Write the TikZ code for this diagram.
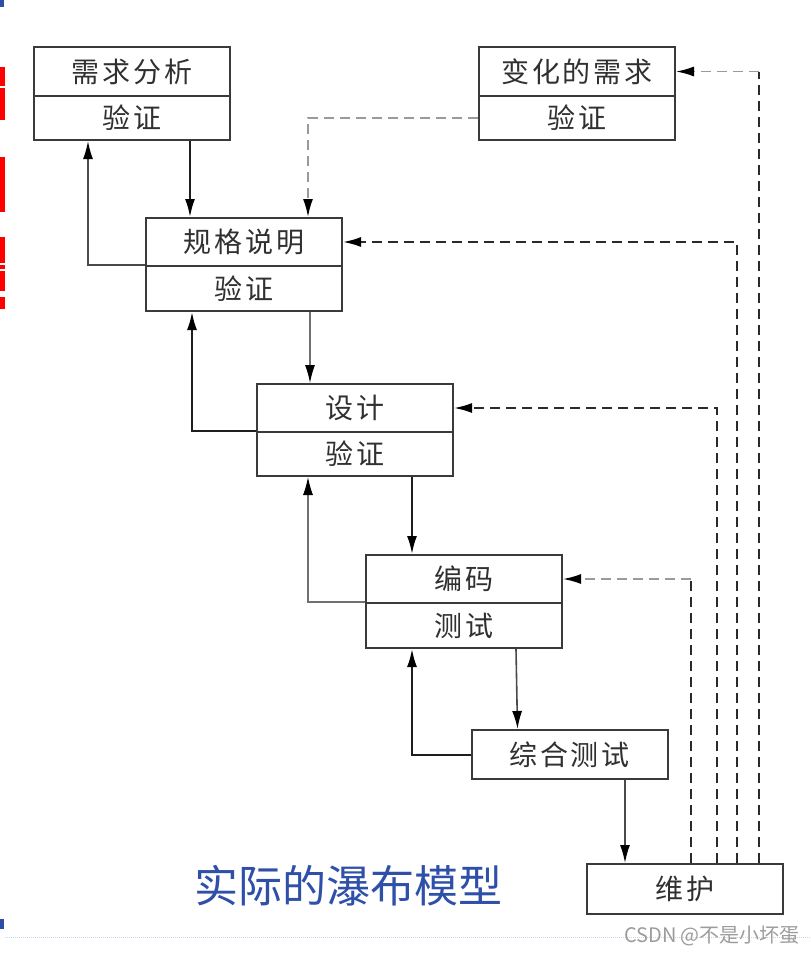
\documentclass[tikz,border=0pt]{standalone}
\usepackage{fontspec}
\newfontfamily\cjk{Noto Sans CJK SC}
\newfontfamily\cjkwide[LetterSpace=10]{Noto Sans CJK SC}
\usetikzlibrary{arrows.meta}
\definecolor{boxline}{HTML}{3A3A3A}
\definecolor{txt}{HTML}{303030}
\definecolor{flowdark}{HTML}{1E1E1E}
\definecolor{flowmid}{HTML}{4A4A4A}
\definecolor{flowlight}{HTML}{707070}
\definecolor{dashdark}{HTML}{2A2A2A}
\definecolor{dashlight}{HTML}{9A9A9A}
\definecolor{titleblue}{HTML}{2F50A8}
\definecolor{rulelight}{HTML}{C6D6EC}
\definecolor{marker}{HTML}{2E4EA6}
\definecolor{wmark}{HTML}{9C9C9C}
\begin{document}
\begin{tikzpicture}[x=1pt,y=-1pt,
  part/.style={draw=boxline, line width=2pt, fill=white, minimum width=196pt,
    text=txt, font=\cjkwide\fontsize{28}{30}\selectfont, inner sep=0pt},
  tip/.style={-{Latex[length=18pt,width=10pt,color=black]}},
  arr/.style={tip, line width=2pt, draw=flowdark},
  arrmid/.style={tip, line width=1.6pt, draw=flowmid},
  arrthin/.style={tip, line width=1.2pt, draw=flowlight},
  dline/.style={line width=1.9pt, draw=dashdark, dash pattern=on 10pt off 6pt},
  dlinelight/.style={line width=1.7pt, draw=dashlight, dash pattern=on 10pt off 6pt},
  darr/.style={tip, dline},
  darrlight/.style={tip, dlinelight}]
\useasboundingbox (0,0) rectangle (811,954);
\fill[white] (0,0) rectangle (811,954);

% clipped slide decorations at the left edge
\fill[marker] (0,0) rectangle (4,7);
\fill[marker] (0,919) rectangle (4,929);
\fill[red] (0,67) rectangle (5,86);
\fill[red] (0,88) rectangle (5,120);
\fill[red] (0,157) rectangle (5,212);
\fill[red] (0,237) rectangle (5,263);
\fill[red] (0,265) rectangle (5,269);
\fill[red] (0,271) rectangle (5,291);
\fill[red] (0,297) rectangle (5,309);

% bottom rule
\draw[rulelight, line width=1pt, dash pattern=on 1pt off 1pt] (5,937) -- (811,937);

% phase boxes
\node[part, minimum height=49pt] (b1t) at (132,71.5) {需求分析};
\node[part, minimum height=44pt] (b1b) at (132,118) {验证};
\node[part, minimum height=49pt] (b2t) at (577,71.5) {变化的需求};
\node[part, minimum height=44pt] (b2b) at (577,118) {验证};
\node[part, minimum height=48pt] (b3t) at (244,242) {规格说明};
\node[part, minimum height=45pt] (b3b) at (244,288.5) {验证};
\node[part, minimum height=48pt] (b4t) at (355,408) {设计};
\node[part, minimum height=44pt] (b4b) at (355,454) {验证};
\node[part, minimum height=48pt] (b5t) at (464,579) {编码};
\node[part, minimum height=45pt] (b5b) at (464,625.5) {测试};
\node[part, minimum height=49pt] (b6) at (569.5,754.5) {综合测试};
\node[part, minimum height=50pt] (b7) at (685,889) {维护};

% forward flow
\draw[arr] ([xshift=58pt]b1b.south) -- ([xshift=-54pt]b3t.north);
\draw[arrthin] ([xshift=66pt]b3b.south) -- ([xshift=-45pt]b4t.north);
\draw[arr] ([xshift=57pt]b4b.south) -- ([xshift=-52pt]b5t.north);
\draw[arrmid] ([xshift=52pt]b5b.south) -- ([xshift=-52pt]b6.north);
\draw[arrmid] ([xshift=55.5pt]b6.south) -- ([xshift=-60pt]b7.north);

% feedback to the previous phase
\draw[arrmid] (b3b.north west) -| ([xshift=-44pt]b1b.south);
\draw[arr] (b4b.north west) -| ([xshift=-52pt]b3b.south);
\draw[arrthin] (b5b.north west) -| ([xshift=-47pt]b4b.south);
\draw[arr] (b6.west) -| ([xshift=-52pt]b5b.south);

% changed requirements
\draw[darrlight] (b2b.west) -| ([xshift=64pt]b3t.north);

% maintenance loops: dark risers, lighter returns into coding and changed requirements
\coordinate (k1) at ([xshift=6pt]b7.north |- b5t.east);
\coordinate (k4) at ([xshift=74pt]b7.north |- b2t.east);
\draw[dline] ([xshift=6pt]b7.north) -- (k1);
\draw[darrlight] (k1) -- (b5t.east);
\draw[darr] ([xshift=32pt]b7.north) |- (b4t.east);
\draw[darr] ([xshift=52pt]b7.north) |- (b3t.east);
\draw[dline] ([xshift=74pt]b7.north) -- (k4);
\draw[darrlight] (k4) -- (b2t.east);

% caption
\node[font=\cjk\fontsize{44}{46}\selectfont, text=titleblue] (title) at (348,886) {实际的瀑布模型};
\node[font=\cjk\fontsize{20}{22}\selectfont, text=wmark] (wm) at (712,936) {CSDN @不是小坏蛋};
\end{tikzpicture}
\end{document}
